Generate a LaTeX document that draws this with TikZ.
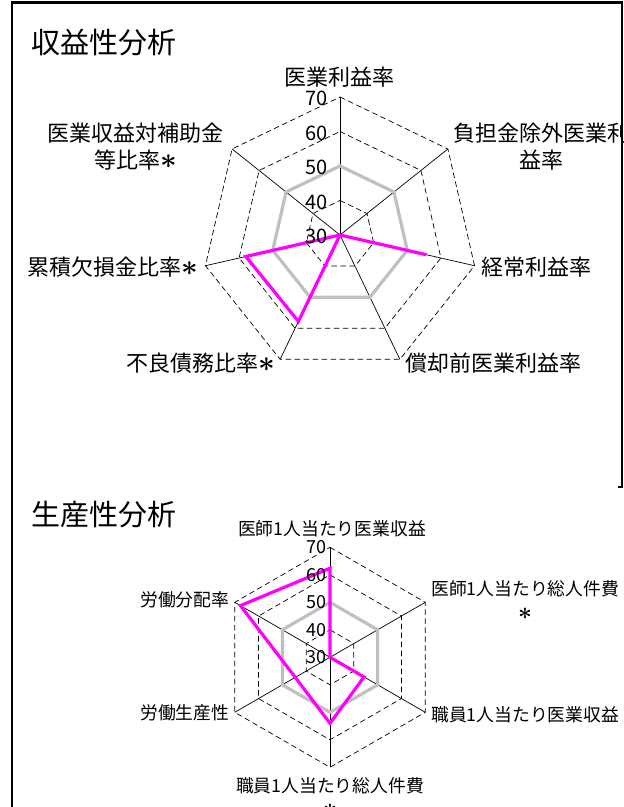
\documentclass[tikz,border=0pt]{standalone}
\usepackage{amsmath}
\usepackage{fontspec}
\setmainfont{Noto Sans CJK JP}
\usepackage{graphicx}
\usepackage{tikz}
\newcommand{\stern}{\scalebox{1.4}{$\boldsymbol{\ast}$}}

\begin{document}
\begin{tikzpicture}[x=1pt,y=-1pt,
    gitter/.style={black, line width=0.7pt, dash pattern=on 5.5pt off 3.5pt},
    speiche/.style={black, line width=0.7pt},
    mittel/.style={mittelgrau, line width=3.2pt},
    daten/.style={datenfarbe, line width=3.2pt},
    titel/.style={inner sep=0pt, font=\fontsize{29}{34}\selectfont},
    textA/.style={inner sep=0pt, align=center, font=\fontsize{22}{27}\selectfont},
    textB/.style={inner sep=0pt, align=center, font=\fontsize{17.8}{23.4}\selectfont},
    skalaA/.style={inner sep=0pt, font=\fontsize{20}{22}\selectfont},
    skalaB/.style={inner sep=0pt, font=\fontsize{18}{20}\selectfont}]
  \definecolor{datenfarbe}{HTML}{FF00FF}
  \definecolor{mittelgrau}{HTML}{C0C0C0}
  \useasboundingbox (0,0) rectangle (624,807);
  \draw[line width=2.6pt] (12,807) -- (12,2.5) -- (622,2.5) -- (622,488);  %Rahmen
  \draw[line width=2pt] (618,487) -- (622,487);  %Rahmenende rechts

  %Diagramm 1: Ertragslage
  \node[titel, anchor=west] (titelA) at (31,43) {収益性分析};
  \begin{scope}[shift={(340,235)}, yscale=-1]
    \coordinate (mitteA) at (0,0);
    \foreach \s in {1,...,4}  %Gitter 40 bis 70
      \draw[gitter] (90:{\s*34.5}) \foreach \k in {1,...,6} {-- ({90-\k*360/7}:{\s*34.5})} -- cycle;
    \foreach \k in {0,...,6}  %Achsen
    {
      \coordinate (achseA\k) at ({90-\k*360/7}:138);
      \draw[speiche] (mitteA) -- (achseA\k);
    }
    \draw[mittel] (90:69) \foreach \k in {1,...,6} {-- ({90-\k*360/7}:69)} -- cycle;  %Mittelwert 50
    \foreach \k/\w in {0/30,1/30,2/55.7,3/30,4/57.8,5/58.0,6/30}  %Werte
      \coordinate (wertA\k) at ({90-\k*360/7}:{(\w-30)*3.45});
    \draw[daten] (wertA0) -- (wertA1) -- (wertA2) -- (wertA3) -- (wertA4) -- (wertA5) -- (wertA6) -- cycle;
    \foreach \w in {30,40,50,60,70}  %Skala
      \node[skalaA, anchor=east] (skalaA\w) at (-12,{(\w-30)*3.45-1.5}) {\w};
  \end{scope}
  \node[textA] (textA0) at (339,76.7) {医業利益率};
  \node[textA, anchor=west] (textA1) at (453,146.7) {負担金除外医業利\\益率};
  \node[textA, anchor=west] (textA2) at (481,266.7) {経常利益率};
  \node[textA, anchor=west] (textA3) at (405,363) {償却前医業利益率};
  \node[textA, anchor=east] (textA4) at (275.5,363) {不良債務比率\stern};
  \node[textA, anchor=east] (textA5) at (198,266.7) {累積欠損金比率\stern};
  \node[textA] (textA6) at (135.5,146.7) {医業収益対補助金\\等比率\stern};

  %Diagramm 2: Produktivitaet
  \node[titel, anchor=west] (titelB) at (31,515) {生産性分析};
  \begin{scope}[shift={(330,657.3)}, yscale=-1]
    \coordinate (mitteB) at (0,0);
    \foreach \s in {1,...,4}  %Gitter 40 bis 70
      \draw[gitter] (90:{\s*27.5}) \foreach \k in {1,...,5} {-- ({90-\k*60}:{\s*27.5})} -- cycle;
    \foreach \k in {0,...,5}  %Achsen
    {
      \coordinate (achseB\k) at ({90-\k*60}:110);
      \draw[speiche] (mitteB) -- (achseB\k);
    }
    \draw[mittel] (90:55) \foreach \k in {1,...,5} {-- ({90-\k*60}:55)} -- cycle;  %Mittelwert 50
    \foreach \k/\w in {0/62.4,1/30,2/44.3,3/54,4/44.6,5/67.6}  %Werte
      \coordinate (wertB\k) at ({90-\k*60}:{(\w-30)*2.75});
    \draw[daten] (wertB0) -- (wertB1) -- (wertB2) -- (wertB3) -- (wertB4) -- (wertB5) -- cycle;
    \foreach \w in {30,40,50,60,70}  %Skala
      \node[skalaB, anchor=east] (skalaB\w) at (-3,{(\w-30)*2.75}) {\w};
  \end{scope}
  \node[textB] (textB0) at (332,529) {医師1人当たり医業収益};
  \node[textB, anchor=west] (textB1) at (431,600) {医師1人当たり総人件費\\\stern};
  \node[textB, anchor=west] (textB2) at (431,715) {職員1人当たり医業収益};
  \node[textB] (textB3) at (330,796.7) {職員1人当たり総人件費\\\stern};
  \node[textB, anchor=east] (textB4) at (229.5,713) {労働生産性};
  \node[textB, anchor=east] (textB5) at (229.5,600) {労働分配率};
\end{tikzpicture}
\end{document}
